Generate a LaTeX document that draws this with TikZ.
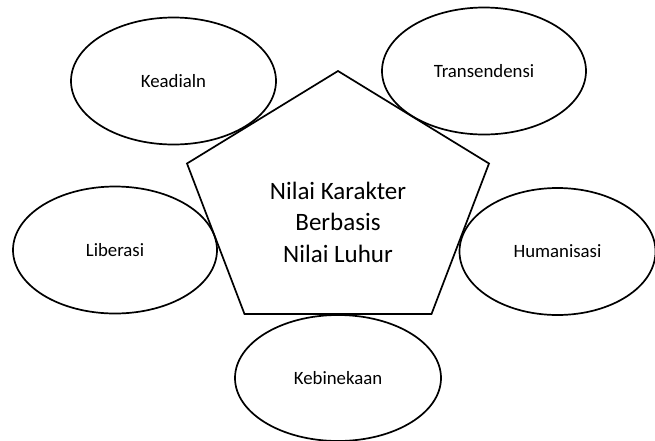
\documentclass[tikz,border=0pt]{standalone}
\usepackage{fontspec}
\setmainfont{Carlito}
\usetikzlibrary{shapes.geometric}
\definecolor{Ink}{HTML}{000000}
\definecolor{Paper}{HTML}{FFFFFF}
\tikzset{
  valuebubble/.style={ellipse,draw=Ink,line width=1.7pt,inner sep=0pt,
    minimum width=204pt,minimum height=127pt,text=Ink,font=\fontsize{18.8}{22}\selectfont},
  coreline/.style={draw=Ink,line width=1.7pt,line join=miter},
  coretext/.style={align=center,text=Ink,font=\fontsize{25}{31.5}\selectfont},
}

\begin{document}
\begin{tikzpicture}[x=1pt,y=-1pt]
    \useasboundingbox[fill=Paper] (0,0) rectangle (655,440);
    \clip (0,0) rectangle (655,440);

    \node[valuebubble,minimum width=205pt] (keadilan) at (173.5,81) {Keadialn};
    \node[valuebubble] (transendensi) at (484,71) {Transendensi};
    \node[valuebubble] (liberasi) at (115,250) {Liberasi};
    \node[valuebubble,minimum width=196pt] (humanisasi) at (557.5,251.5) {Humanisasi};
    \node[valuebubble,minimum width=206pt,minimum height=126pt] (kebinekaan) at (338,378) {Kebinekaan};

    % pentagon, squashed vertically
    \coordinate (p1) at (338,71);
    \coordinate (p2) at (489,163.5);
    \coordinate (p3) at (431.5,314);
    \coordinate (p4) at (244.5,314);
    \coordinate (p5) at (187,163.5);
    \draw[coreline] (p1) -- (p2) -- (p3) -- (p4) -- (p5) -- cycle;

    \node[coretext] (core) at (338,222) {Nilai Karakter\\Berbasis\\Nilai Luhur};
  \end{tikzpicture}
\end{document}
